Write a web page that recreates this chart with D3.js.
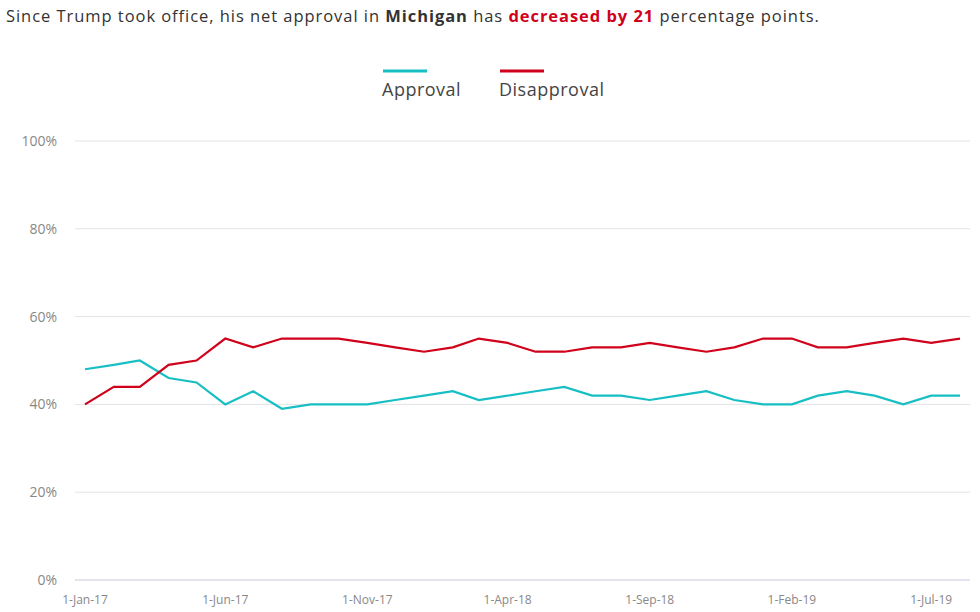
<!DOCTYPE html>
<html><head><meta charset="utf-8">
<script src="https://cdn.jsdelivr.net/npm/d3@7"></script>
<style>body{margin:0;background:#fff;font-family:"Open Sans","Noto Sans",sans-serif;}</style>
</head><body><svg id="chart" width="980" height="612"></svg>
<script>
const approval = [48,49,50,46,45,40,43,39,40,40,40,41,42,43,41,42,43,44,42,42,41,42,43,41,40,40,42,43,42,40,42,42];
const disapproval = [40,44,44,49,50,55,53,55,55,55,54,53,52,53,55,54,52,52,53,53,54,53,52,53,55,55,53,53,54,55,54,55];
const xTickLabels = ['1-Jan-17','1-Jun-17','1-Nov-17','1-Apr-18','1-Sep-18','1-Feb-19','1-Jul-19'];
const yTicks = [0,20,40,60,80,100];

const months = approval.map((d, i) => new Date(2017, i, 1));
const x = d3.scaleTime().domain([new Date(2017,0,1), new Date(2019,7,1)]).range([85, 960]);
const y = d3.scaleLinear().domain([0,100]).range([580, 141]);
const svg = d3.select('#chart');

// title
const t = svg.append('text').attr('x', 6).attr('y', 22).attr('font-size', 16.5)
  .attr('letter-spacing', 0.95).attr('fill', '#333');
t.append('tspan').text('Since Trump took office, his net approval in ');
t.append('tspan').attr('font-weight', 'bold').text('Michigan');
t.append('tspan').text(' has ');
t.append('tspan').attr('font-weight', 'bold').attr('fill', '#d0021b').text('decreased by 21');
t.append('tspan').text(' percentage points.');

// legend
const legend = [{name: 'Approval', color: '#17bfc4', x: 383}, {name: 'Disapproval', color: '#d0021b', x: 500}];
legend.forEach(l => {
  svg.append('line').attr('x1', l.x).attr('x2', l.x + 44).attr('y1', 71).attr('y2', 71)
    .attr('stroke', l.color).attr('stroke-width', 3);
  svg.append('text').attr('x', l.x - 1).attr('y', 96).attr('font-size', 18).attr('letter-spacing', 0.5)
    .attr('fill', '#444').text(l.name);
});

// grid + y labels
svg.append('g').selectAll('line').data(yTicks.filter(d => d > 0)).join('line')
  .attr('x1', 75).attr('x2', 970).attr('y1', d => y(d)).attr('y2', d => y(d))
  .attr('stroke', '#e3e3e3');
svg.append('line').attr('x1', 75).attr('x2', 970).attr('y1', y(0)).attr('y2', y(0)).attr('stroke', '#c8c6dc');
svg.append('g').selectAll('text').data(yTicks).join('text')
  .attr('x', 57).attr('y', d => y(d) + 5).attr('text-anchor', 'end')
  .attr('font-size', 14).attr('fill', '#888').text(d => d + '%');

// x ticks every 5 months
svg.append('g').selectAll('text').data(xTickLabels).join('text')
  .attr('x', (d, i) => x(new Date(2017, i * 5, 1)))
  .attr('y', 604).attr('text-anchor', 'middle').attr('font-size', 12).attr('fill', '#888').text(d => d);

const line = d3.line().x((d, i) => x(months[i])).y(d => y(d));
svg.append('path').datum(approval).attr('d', line).attr('fill', 'none').attr('stroke', '#17bfc4').attr('stroke-width', 2.2);
svg.append('path').datum(disapproval).attr('d', line).attr('fill', 'none').attr('stroke', '#d0021b').attr('stroke-width', 2.2);
</script></body></html>
